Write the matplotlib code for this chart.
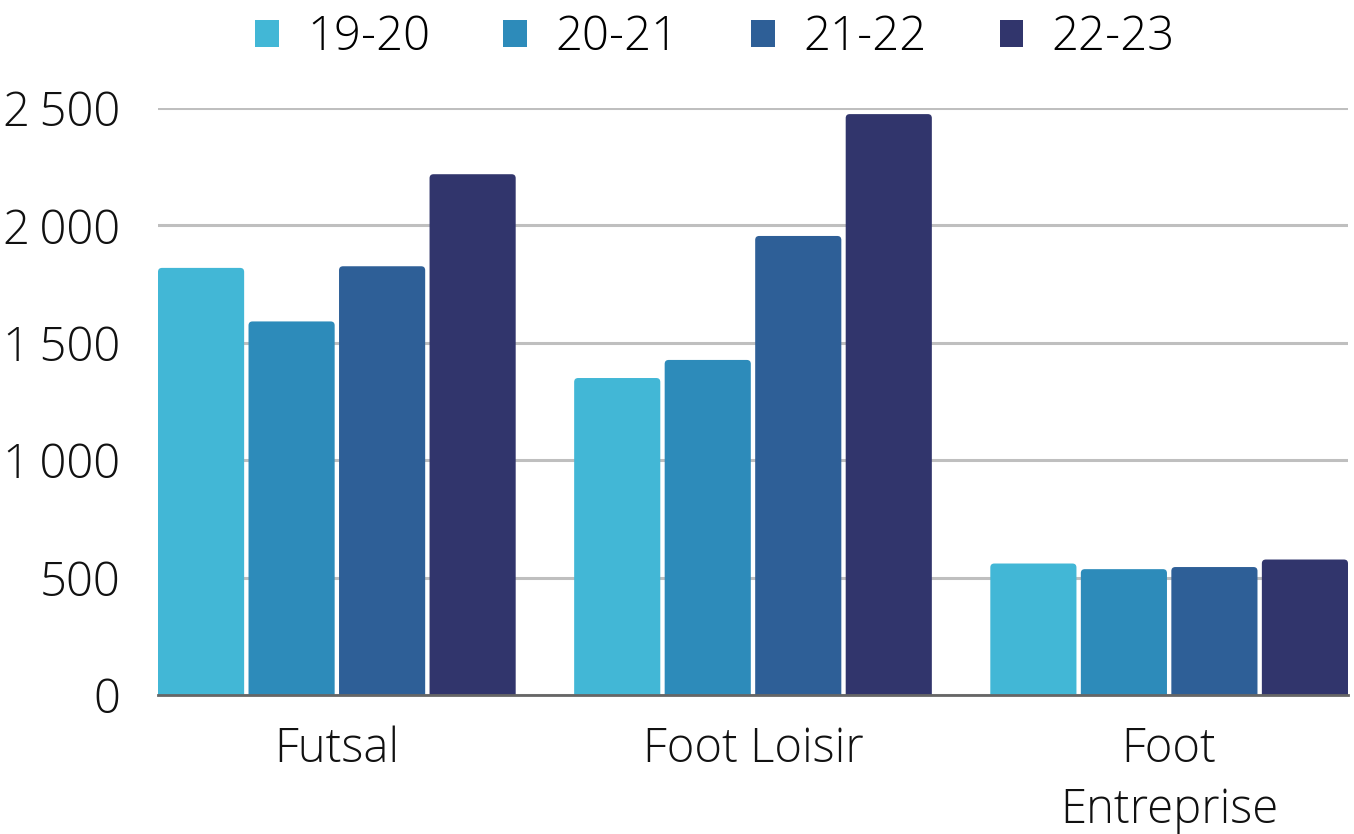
import numpy as np
import matplotlib
matplotlib.use("Agg")
import matplotlib.pyplot as plt
from matplotlib.patches import Patch, FancyBboxPatch
from matplotlib.ticker import FuncFormatter

plt.rcParams['font.family'] = ['Open Sans', 'DejaVu Sans']

categories = ["Futsal", "Foot Loisir", "Foot\nEntreprise"]
saisons = ["19-20", "20-21", "21-22", "22-23"]
valeurs = {
    "19-20": [1819, 1350, 560],
    "20-21": [1591, 1427, 536],
    "21-22": [1826, 1955, 545],
    "22-23": [2218, 2474, 577],
}
couleurs = ["#42B7D6", "#2D8BBA", "#2E5F97", "#31356C"]

fig = plt.figure(figsize=(13.54, 8.34), dpi=100)
ax = fig.add_axes([158 / 1354, 139 / 834, 1190 / 1354, 587 / 834])

x = np.arange(len(categories))
largeur = 0.207
pas = 0.2175
ax.set_ylim(0, 2500)
ax.set_xlim(-1.5 * pas - largeur / 2, 2 + 1.5 * pas + largeur / 2)

# coins arrondis (~4 px) : conversion px -> unités de données
px_x = 1.0 / 416
px_y = 2500 / 587
rx = 4 * px_x
ry = 4 * px_y
for i, s in enumerate(saisons):
    barres = ax.bar(x + (i - 1.5) * pas, valeurs[s], width=largeur, color=couleurs[i], zorder=3)
    for b in barres:
        b.set_visible(False)
        ax.add_patch(FancyBboxPatch((b.get_x(), -ry), b.get_width(), b.get_height() + ry,
                                    boxstyle=f"round,pad=0,rounding_size={rx}",
                                    mutation_aspect=ry / rx, facecolor=couleurs[i],
                                    edgecolor="none", zorder=3))

ax.set_yticks([0, 500, 1000, 1500, 2000, 2500])
ax.yaxis.set_major_formatter(FuncFormatter(lambda v, p: f"{int(v):,}".replace(",", "\u2009")))
ax.grid(axis="y", color="#BFBFBF", linewidth=2.2, zorder=0)
ax.set_xticks(x)
ax.set_xticklabels(categories, linespacing=1.35)

for sp in ["top", "right", "left"]:
    ax.spines[sp].set_visible(False)
ax.spines["bottom"].set_color("#666666")
ax.spines["bottom"].set_linewidth(2)
ax.spines["bottom"].set_zorder(4)

ax.tick_params(axis="both", length=0, labelsize=34, colors="#111111")
ax.tick_params(axis="x", pad=22)
ax.tick_params(axis="y", pad=27)
for lab in ax.get_xticklabels() + ax.get_yticklabels():
    lab.set_fontweight("light")

handles = [Patch(facecolor=c, label=s) for c, s in zip(couleurs, saisons)]
leg = fig.legend(handles=handles, loc="center", bbox_to_anchor=(715 / 1354, 1 - 38 / 834),
                 ncol=4, frameon=False, fontsize=34, handlelength=0.5, handleheight=0.5,
                 handletextpad=0.6, columnspacing=1.55)
for t in leg.get_texts():
    t.set_fontweight("light")

plt.savefig("out.png", dpi=100)
